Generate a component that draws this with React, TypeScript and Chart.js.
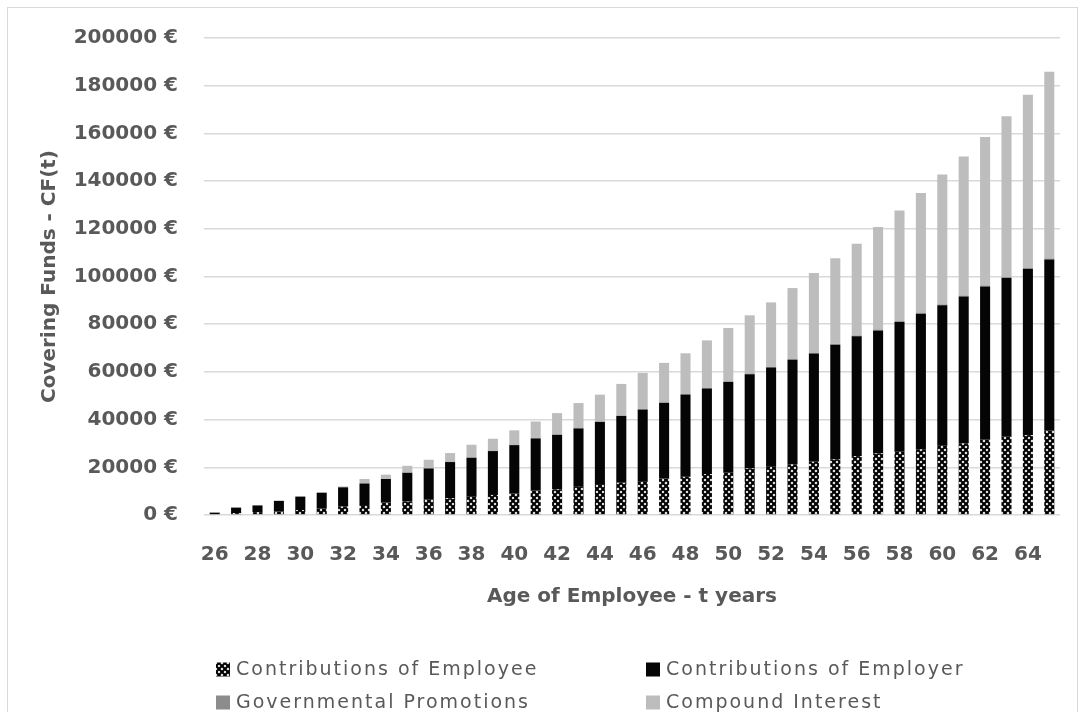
import React, { useEffect, useRef } from "react";
import { Chart, registerables } from "chart.js";

Chart.register(...registerables);

const ages = [
  26, 27, 28, 29, 30, 31, 32, 33, 34, 35, 36, 37, 38, 39, 40, 41, 42, 43, 44, 45,
  46, 47, 48, 49, 50, 51, 52, 53, 54, 55, 56, 57, 58, 59, 60, 61, 62, 63, 64, 65,
];

const employeeContrib = [
  400, 800, 1200, 1500, 2100, 2800, 3500, 4200, 5200, 5600, 6600, 7000, 7900, 8400, 9100,
  10200, 10700, 11800, 12600, 13500, 13900, 15300, 16000, 17200, 17700, 19500, 20500,
  21200, 22300, 23300, 24700, 25800, 26500, 27500, 29300, 30000, 31700, 32800, 33500, 35300,
];

const employerContrib = [
  600, 2300, 2800, 4400, 5600, 6500, 8100, 9000, 9900, 12100, 12900, 15200, 16100, 18400,
  20200, 21900, 22900, 24500, 26400, 28000, 30300, 31700, 34500, 35800, 38100, 39500,
  41300, 43900, 45400, 48100, 50200, 51600, 54400, 56900, 58600, 61600, 64100, 66600,
  69600, 71800,
];

const governmentalPromotions = [
  0, 20, 40, 50, 60, 80, 90, 110, 120, 130, 150, 160, 170, 190, 200, 210, 220, 240, 250,
  260, 270, 280, 300, 310, 320, 330, 340, 350, 360, 370, 380, 390, 400, 410, 420, 430,
  440, 450, 460, 470,
];

const compoundInterest = [
  0, 0, 100, 100, 100, 200, 300, 1800, 1700, 2800, 3500, 3600, 5300, 5000, 6000, 6900,
  8900, 10400, 11200, 13200, 15100, 16500, 17000, 19900, 22300, 24400, 27000, 29700,
  33400, 35900, 38500, 43000, 46400, 50200, 54400, 58300, 62200, 67300, 72600, 78300,
];

const seriesNames = [
  "Contributions of Employee",
  "Contributions of Employer",
  "Governmental Promotions",
  "Compound Interest",
];

const xTitle = "Age of Employee - t years";
const yTitle = "Covering Funds - CF(t)";

const TEXT = "#595959";

function makeHatch(): CanvasPattern | string {
  const c = document.createElement("canvas");
  c.width = 6;
  c.height = 6;
  const g = c.getContext("2d");
  if (!g) return "#333";
  g.fillStyle = "#ffffff";
  g.fillRect(0, 0, 6, 6);
  g.strokeStyle = "#000000";
  g.lineWidth = 2.2;
  g.beginPath();
  g.moveTo(-1, -1);
  g.lineTo(7, 7);
  g.moveTo(7, -1);
  g.lineTo(-1, 7);
  g.stroke();
  const p = g.createPattern(c, "repeat");
  return p || "#333";
}

const legendGrid = {
  id: "legendGrid",
  afterDraw(chart: any) {
    const ctx = chart.ctx as CanvasRenderingContext2D;
    const cols = [216, 646];
    const rows = [669.5, 702.5];
    const box = 14;
    ctx.save();
    chart.data.datasets.forEach((ds: any, i: number) => {
      const x = cols[i % 2];
      const y = rows[Math.floor(i / 2)];
      ctx.fillStyle = ds.backgroundColor;
      ctx.fillRect(x, y - box / 2, box, box);
      ctx.fillStyle = TEXT;
      ctx.font = '19px "DejaVu Sans"';
      (ctx as any).letterSpacing = "2px";
      ctx.textBaseline = "middle";
      ctx.textAlign = "left";
      ctx.fillText(ds.label, x + box + 6, y + 1);
    });
    ctx.restore();
  },
};

export default function App() {
  const ref = useRef<HTMLCanvasElement>(null);

  useEffect(() => {
    if (!ref.current) return;
    const hatch = makeHatch();
    const chart = new Chart(ref.current, {
      type: "bar",
      data: {
        labels: ages.map(String),
        datasets: [
          { label: seriesNames[0], data: employeeContrib, backgroundColor: hatch as any },
          { label: seriesNames[1], data: employerContrib, backgroundColor: "#050505" },
          { label: seriesNames[2], data: governmentalPromotions, backgroundColor: "#8c8c8c" },
          { label: seriesNames[3], data: compoundInterest, backgroundColor: "#bdbdbd" },
        ],
      },
      options: {
        responsive: false,
        animation: false,
        devicePixelRatio: 1,
        datasets: {
          bar: {
            categoryPercentage: 0.94,
            barPercentage: 0.5,
            borderWidth: 0,
          },
        },
        layout: { padding: { top: 37, right: 24, bottom: 100, left: 0 } },
        plugins: {
          legend: { display: false },
          tooltip: { enabled: false },
          title: { display: false },
        },
        scales: {
          x: {
            stacked: true,
            grid: { display: false },
            border: { display: false },
            afterFit: (s: any) => {
              s.height = 97;
            },
            ticks: {
              autoSkip: false,
              maxRotation: 0,
              minRotation: 0,
              padding: 20,
              color: TEXT,
              font: { family: "DejaVu Sans", size: 20, weight: "bold" },
              callback: (_v: any, idx: number) => (idx % 2 === 0 ? String(ages[idx]) : ""),
            },
            title: {
              display: true,
              text: xTitle,
              color: TEXT,
              font: { family: "DejaVu Sans", size: 20, weight: "bold" },
              padding: { top: 0, bottom: 3 },
            },
          },
          y: {
            stacked: true,
            min: 0,
            max: 200000,
            afterFit: (s: any) => {
              s.width = 204;
            },
            grid: { color: "#d9d9d9", lineWidth: 1.6, drawTicks: false },
            border: { display: false },
            ticks: {
              stepSize: 20000,
              padding: 26,
              color: TEXT,
              font: { family: "DejaVu Sans", size: 20, weight: "bold" },
              callback: (v: any) => `${v} €`,
            },
            title: {
              display: true,
              text: yTitle,
              color: TEXT,
              font: { family: "DejaVu Sans", size: 20, weight: "bold" },
              padding: { top: 38, bottom: 0 },
            },
          },
        },
      },
      plugins: [legendGrid],
    });
    return () => chart.destroy();
  }, []);

  return (
    <div
      style={{
        position: "fixed",
        left: 0,
        top: 0,
        width: 1084,
        height: 712,
        overflow: "hidden",
        background: "#ffffff",
      }}
    >
      <div
        style={{
          position: "absolute",
          left: 7,
          top: 7,
          width: 1069,
          height: 720,
          border: "1px solid #d9d9d9",
        }}
      />
      <canvas
        ref={ref}
        width={1084}
        height={712}
        style={{ position: "absolute", left: 0, top: 0, width: 1084, height: 712 }}
      />
    </div>
  );
}
